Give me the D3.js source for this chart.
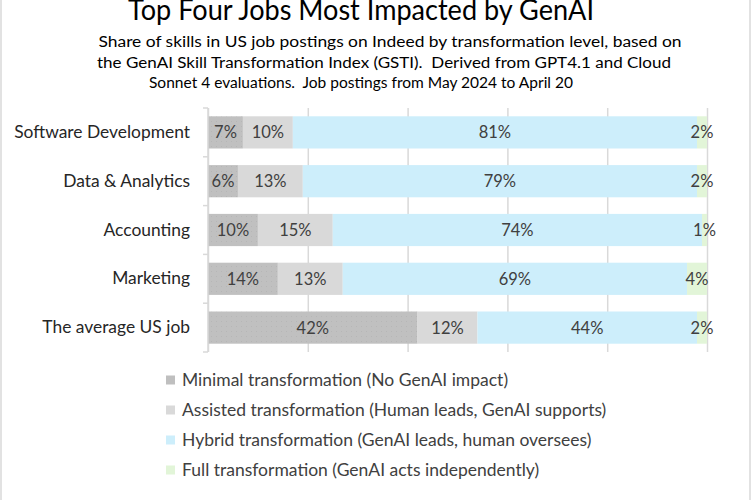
<!DOCTYPE html>
<html>
<head>
<meta charset="utf-8">
<script src="https://cdn.jsdelivr.net/npm/d3@7"></script>
<style>
  body { margin: 0; background: #fff; }
  svg text { font-family: Lato, "Noto Sans", sans-serif; white-space: pre; }
</style>
</head>
<body>
<div id="chart"></div>
<script>
// data
const jobs = ['Software Development', 'Data & Analytics', 'Accounting', 'Marketing', 'The average US job'];
const minimal = [7, 6, 10, 14, 42];
const assisted = [10, 13, 15, 13, 12];
const hybrid = [81, 79, 74, 69, 44];
const full = [2, 2, 1, 4, 2];
const seriesNames = [
    'Minimal transformation (No GenAI impact)',
    'Assisted transformation (Human leads, GenAI supports)',
    'Hybrid transformation (GenAI leads, human oversees)',
    'Full transformation (GenAI acts independently)'
];
const seriesColors = ['url(#dots)', '#d9d9d9', '#cdeefb', '#e2f5d8'];
const legendColors = ['#bfbfbf', '#d9d9d9', '#cdeefb', '#e2f5d8'];
const xTicks = [0, 20, 40, 60, 80, 100];
const titleText = 'Top Four Jobs Most Impacted by GenAI';
const subLines = [
    'Share of skills in US job postings on Indeed by transformation level, based on',
    'the GenAI Skill Transformation Index (GSTI).  Derived from GPT4.1 and Cloud',
    'Sonnet 4 evaluations.  Job postings from May 2024 to April 20'
];

let drawChart = function () {
    var w = 752, h = 500;
    const svg = d3.select('#chart').append('svg')
        .attr('width', w).attr('height', h);

    // dotted fill for the minimal series
    const pat = svg.append('defs').append('pattern')
        .attr('id', 'dots').attr('width', 5).attr('height', 5)
        .attr('patternUnits', 'userSpaceOnUse');
    pat.append('rect').attr('width', 5).attr('height', 5).attr('fill', '#c0c0c0');
    pat.append('rect').attr('x', 1).attr('y', 1).attr('width', 1).attr('height', 1).attr('fill', '#b6b6b6');

    // chart border
    svg.append('rect')
        .attr('x', 1).attr('y', -5).attr('width', 749).attr('height', 510)
        .attr('fill', 'none').attr('stroke', '#d9d9d9').attr('stroke-width', 1.5);

    // titles
    svg.append('text')
        .attr('x', 361).attr('y', 20)
        .attr('text-anchor', 'middle')
        .attr('font-size', 28).attr('fill', '#000')
        .attr('textLength', 466).attr('lengthAdjust', 'spacingAndGlyphs')
        .text(titleText);

    const subX = [390, 384, 361];
    const subW = [583, 574, 424];
    svg.selectAll('text.sub')
        .data(subLines)
        .enter()
        .append('text')
        .attr('class', 'sub')
        .attr('x', (d, i) => subX[i])
        .attr('y', (d, i) => 47 + i * 20.5)
        .attr('text-anchor', 'middle')
        .attr('font-size', 15.5).attr('fill', '#000')
        .attr('textLength', (d, i) => subW[i]).attr('lengthAdjust', 'spacingAndGlyphs')
        .text(d => d);

    const x = d3.scaleLinear().domain([0, 100]).range([208, 707]);
    const y = d3.scaleBand().domain(jobs).range([108, 352]).paddingInner(0.34).paddingOuter(0.17);

    // gridlines
    svg.append('g')
        .attr('transform', 'translate(0,352)')
        .call(d3.axisBottom(x).tickValues(xTicks).tickSize(-244).tickFormat(''))
        .call(g => g.select('.domain').remove())
        .call(g => g.selectAll('line').attr('stroke', '#d9d9d9').attr('stroke-width', 1.5));

    // stacked bars
    const rows = jobs.map((j, i) => ({ job: j, minimal: minimal[i], assisted: assisted[i], hybrid: hybrid[i], full: full[i] }));
    const keys = ['minimal', 'assisted', 'hybrid', 'full'];
    const stacked = d3.stack().keys(keys)(rows);

    const layers = svg.selectAll('g.layer')
        .data(stacked)
        .enter()
        .append('g')
        .attr('class', 'layer')
        .attr('fill', (d, i) => seriesColors[i]);

    layers.selectAll('rect')
        .data(d => d)
        .enter()
        .append('rect')
        .attr('x', d => x(d[0]))
        .attr('y', d => y(d.data.job))
        .attr('width', d => x(d[1]) - x(d[0]))
        .attr('height', y.bandwidth());

    layers.selectAll('text')
        .data(d => d.map(p => ({ p: p, v: p[1] - p[0] })))
        .enter()
        .append('text')
        .attr('x', d => (x(d.p[0]) + x(d.p[1])) / 2)
        .attr('y', d => y(d.p.data.job) + y.bandwidth() / 2)
        .attr('dy', '0.36em')
        .attr('text-anchor', 'middle')
        .attr('font-size', 16.5)
        .attr('fill', '#404040')
        .text(d => d.v + '%');

    // category axis
    svg.append('g')
        .attr('transform', 'translate(208,0)')
        .call(d3.axisLeft(y).tickSize(0).tickPadding(18))
        .call(g => g.select('.domain').remove())
        .call(g => g.selectAll('text').attr('font-size', 17.4).attr('fill', '#262626')
            .attr('font-family', 'Lato, sans-serif'));

    const axisG = svg.append('g');
    axisG.append('line')
        .attr('x1', 208).attr('x2', 208).attr('y1', 108).attr('y2', 352)
        .attr('stroke', '#d9d9d9').attr('stroke-width', 1.5);
    axisG.selectAll('line.tk')
        .data(d3.range(jobs.length + 1))
        .enter()
        .append('line')
        .attr('class', 'tk')
        .attr('x1', 203).attr('x2', 208)
        .attr('y1', i => 108 + i * y.step())
        .attr('y2', i => 108 + i * y.step())
        .attr('stroke', '#d9d9d9').attr('stroke-width', 1.5);

    // legend
    const leg = svg.selectAll('g.leg')
        .data(seriesNames)
        .enter()
        .append('g')
        .attr('class', 'leg')
        .attr('transform', (d, i) => 'translate(166,' + (380 + i * 30) + ')');
    leg.append('rect')
        .attr('x', 0).attr('y', -4.5).attr('width', 9).attr('height', 9)
        .attr('fill', (d, i) => legendColors[i]);
    leg.append('text')
        .attr('x', 16).attr('dy', '0.36em')
        .attr('font-size', 17.5).attr('fill', '#404040')
        .text(d => d);

    svg.node();
}

drawChart();
</script>
</body>
</html>
